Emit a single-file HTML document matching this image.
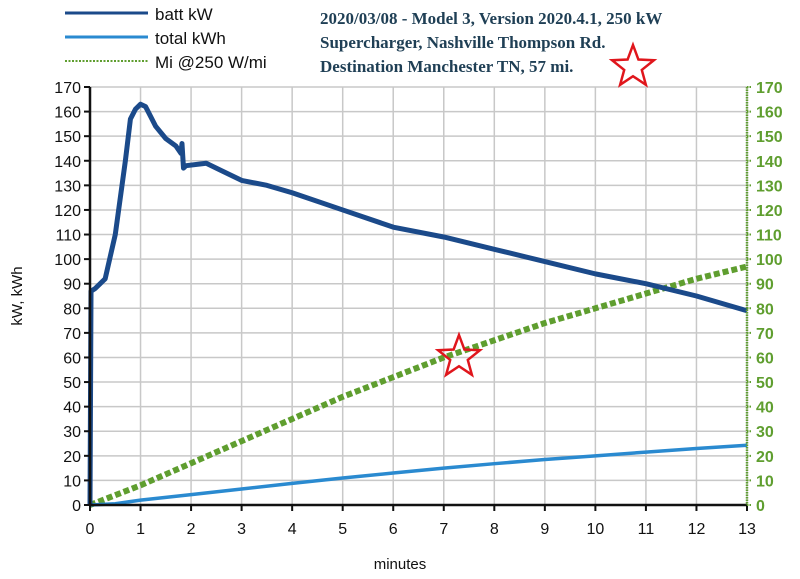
<!DOCTYPE html>
<html><head><meta charset="utf-8"><style>
body{margin:0;background:#fff;}
svg{display:block;font-family:"Liberation Sans",sans-serif;}
</style></head><body>
<svg id="c" width="800" height="579" viewBox="0 0 800 579">
<g id="grid"></g>
<g id="series"></g>
<g id="axes"></g>
<g>
 <line x1="65" y1="13" x2="148" y2="13" stroke="#1b4a8a" stroke-width="3"/>
 <text x="155" y="20" font-size="17" fill="#111">batt kW</text>
 <line x1="65" y1="37" x2="148" y2="37" stroke="#2a8ad0" stroke-width="3"/>
 <text x="155" y="44" font-size="17" fill="#111">total kWh</text>
 <line x1="65" y1="61" x2="148" y2="61" stroke="#5f9e2f" stroke-width="2" stroke-dasharray="2,1.5"/>
 <text x="155" y="68" font-size="17" fill="#111">Mi @250 W/mi</text>
</g>
<g font-family="'Liberation Serif',serif" font-weight="bold" font-size="17" fill="#1f3f55">
 <text x="320" y="24">2020/03/08 - Model 3, Version 2020.4.1, 250 kW</text>
 <text x="320" y="48">Supercharger, Nashville Thompson Rd.</text>
 <text x="320" y="72">Destination Manchester TN, 57 mi.</text>
</g>
<text x="400" y="569" font-size="15" text-anchor="middle" fill="#111">minutes</text>
<text transform="translate(22,296) rotate(-90)" font-size="15" text-anchor="middle" fill="#111">kW, kWh</text>
</svg>
<script>
const minutes=[0,0.02,0.1,0.3,0.5,0.7,0.8,0.9,1.0,1.1,1.2,1.3,1.5,1.7,1.8,1.82,1.85,1.9,2.3,2.6,3,3.5,4,5,6,7,8,9,10,11,12,13];
const battKW=[0,87,88,92,110,140,157,161,163,162,158,154,149,146,143,147,137,138,139,136,132,130,127,120,113,109,104,99,94,90,85,79];
const kwhMinutes=[0,0.5,1,2,3,4,5,6,7,8,9,10,11,12,13];
const totalKWh=[0,0.5,2,4.2,6.5,8.8,11,13,15,16.8,18.5,20,21.5,23,24.3];
const miMinutes=[0,1,2,3,4,5,6,7,8,9,10,11,12,13];
const miles=[0,8,17,26,35,44,52,60,67,74,80,86,92,97];
const xTicks=[0,1,2,3,4,5,6,7,8,9,10,11,12,13];
const yTicks=[0,10,20,30,40,50,60,70,80,90,100,110,120,130,140,150,160,170];
const NS="http://www.w3.org/2000/svg";
const X0=90,X1=747,Y0=505,Y1=87;
const xs=v=>X0+v/13*(X1-X0), ys=v=>Y0-v/170*(Y0-Y1);
function mk(tag,attrs,parent){const e=document.createElementNS(NS,tag);for(const k in attrs)e.setAttribute(k,attrs[k]);document.getElementById(parent).appendChild(e);return e;}
xTicks.forEach(t=>{
 const g=mk('line',{x1:xs(t),x2:xs(t),y1:Y1,y2:Y0,stroke:'#c8c8c8','stroke-width':1.5},'grid');
 
 
 const tk=mk('line',{x1:xs(t),x2:xs(t),y1:Y0,y2:Y0+6,stroke:'#111','stroke-width':2},'axes');
 
 
 const l=mk('text',{x:xs(t),y:Y0+29,'font-size':16,'text-anchor':'middle',fill:'#111'},'axes');l.textContent=t;
 
 
});
yTicks.forEach(t=>{
 const g=mk('line',{x1:X0,x2:X1,y1:ys(t),y2:ys(t),stroke:'#c8c8c8','stroke-width':1.5},'grid');
 
 
 const tk=mk('line',{x1:X0-6,x2:X0,y1:ys(t),y2:ys(t),stroke:'#111','stroke-width':2},'axes');
 
 
 const l=mk('text',{x:X0-9,y:ys(t)+6,'font-size':16,'text-anchor':'end',fill:'#111'},'axes');l.textContent=t;
 
 
 const rt=mk('line',{x1:X1,x2:X1+5,y1:ys(t),y2:ys(t),stroke:'#5f9e2f','stroke-width':2,'stroke-dasharray':'1.5,1'},'axes');
 
 
 const r=mk('text',{x:X1+9,y:ys(t)+6,'font-size':16,fill:'#5f9e2f','font-weight':'bold'},'axes');r.textContent=t;
 
 
});
const ax=mk('line',{x1:X0,x2:X1,y1:Y0,y2:Y0,stroke:'#111','stroke-width':2.5},'axes');


const ay=mk('line',{x1:X0,x2:X0,y1:Y1,y2:Y0,stroke:'#111','stroke-width':2.5},'axes');


const ay2=mk('line',{x1:X1,x2:X1,y1:Y1,y2:Y0,stroke:'#5f9e2f','stroke-width':2.5,'stroke-dasharray':'1.5,1'},'axes');


const pts=(xa,ya)=>xa.map((v,i)=>xs(v)+','+ys(ya[i])).join(' ');
const m=mk('polyline',{points:pts(miMinutes,miles),fill:'none',stroke:'#5f9e2f','stroke-width':6,'stroke-dasharray':'6,3'},'series');


const k=mk('polyline',{points:pts(kwhMinutes,totalKWh),fill:'none',stroke:'#2a8ad0','stroke-width':3.5},'series');


const b=mk('polyline',{points:pts(minutes,battKW),fill:'none',stroke:'#1b4a8a','stroke-width':5,'stroke-linejoin':'round'},'series');


function star(cx,cy,R,name){const r=R*0.42;let p=[];for(let i=0;i<10;i++){const a=-Math.PI/2+i*Math.PI/5,rr=i%2?r:R;p.push((cx+rr*Math.cos(a)).toFixed(1)+','+(cy+rr*Math.sin(a)).toFixed(1));}
 const s=mk('polygon',{points:p.join(' '),fill:'none',stroke:'#e0161c','stroke-width':2.5},'series');
 
 }
star(633,67,22,'title-star');
star(459,357,22,'marker-star');
</script>
</body></html>
